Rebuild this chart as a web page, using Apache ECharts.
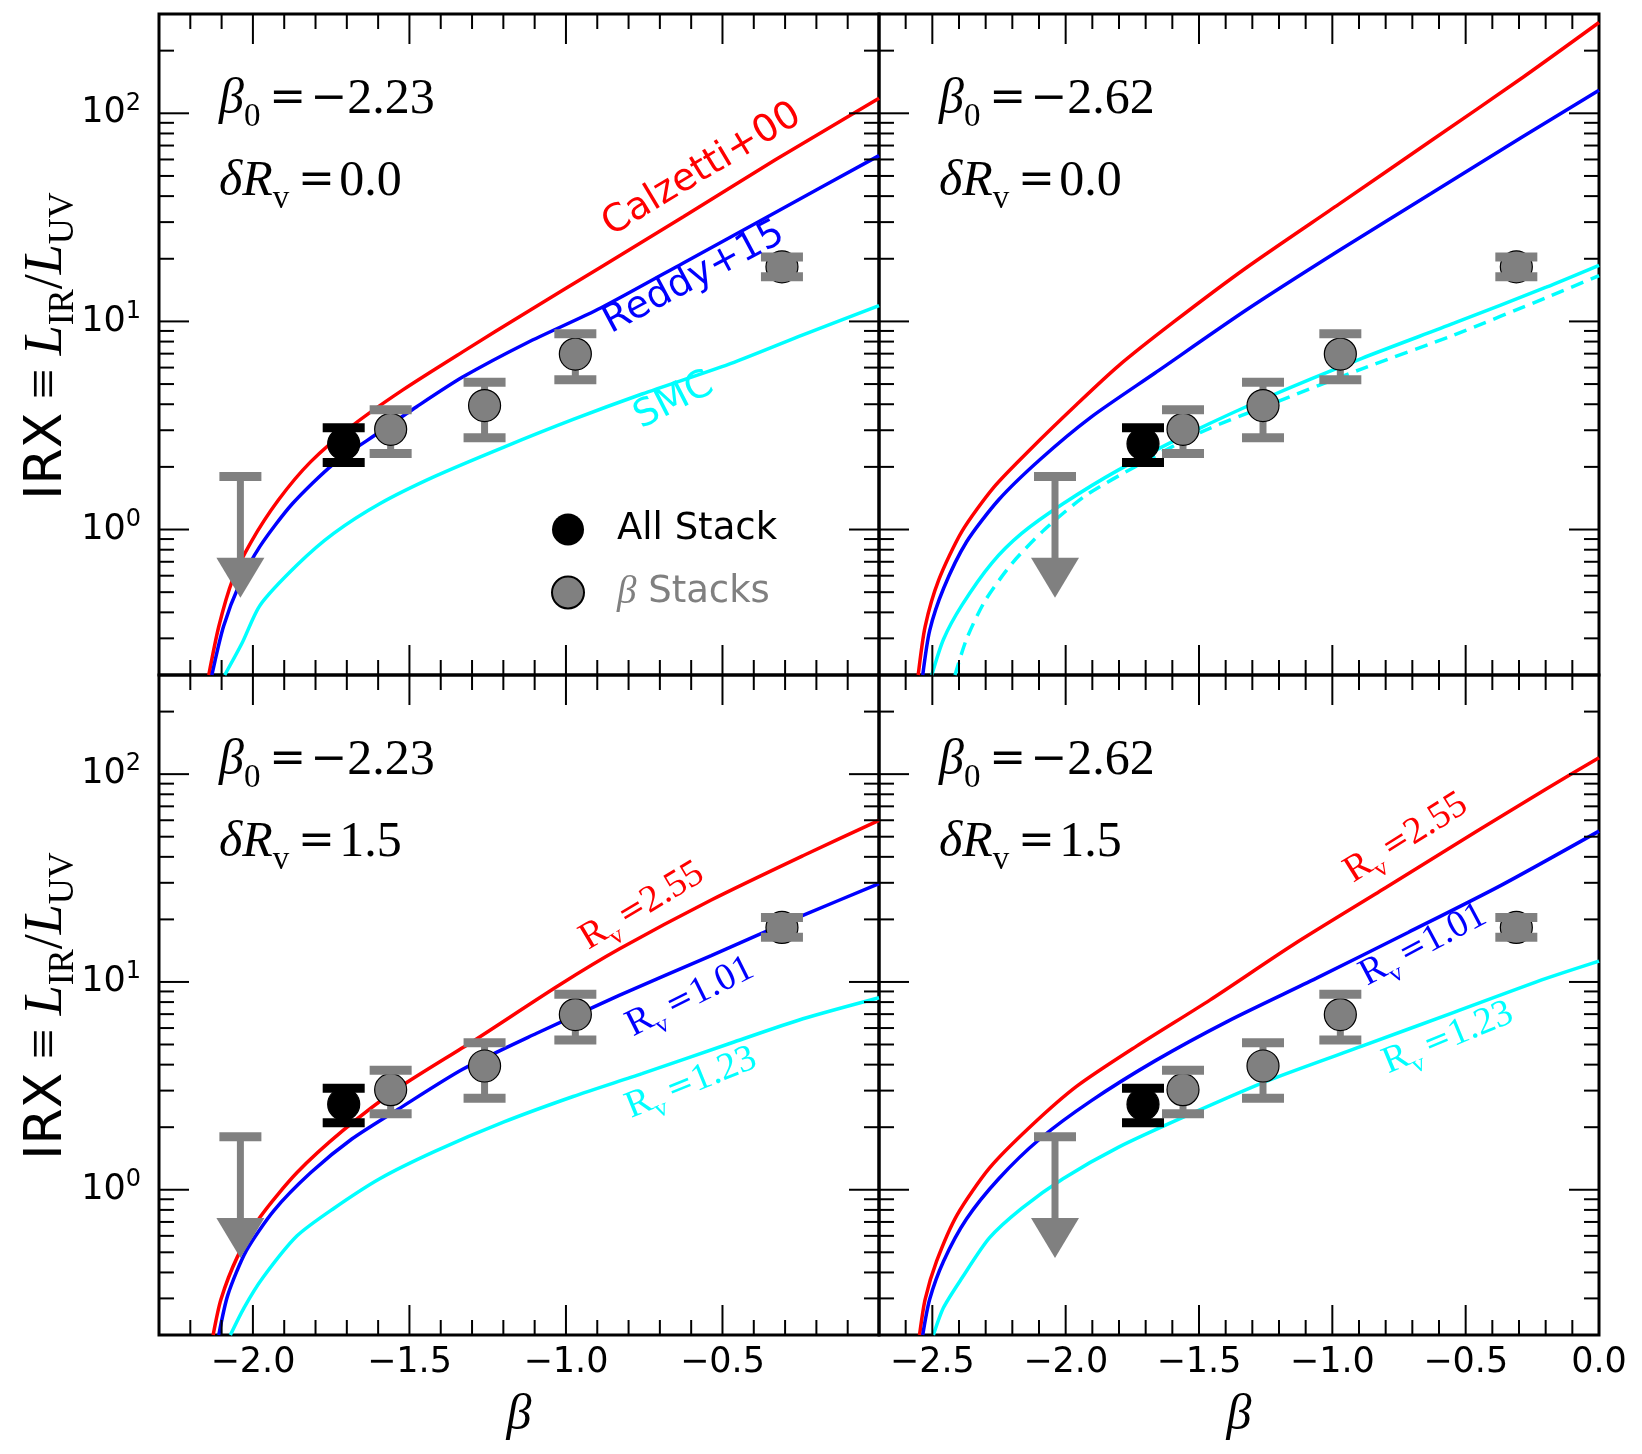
<!DOCTYPE html>
<html>
<head>
<meta charset="UTF-8">
<script src="https://cdn.jsdelivr.net/npm/echarts@6/dist/echarts.min.js"></script>
<style>
html, body { margin: 0; padding: 0; background: #fff; }
#chart { width: 1642px; height: 1454px; }
</style>
</head>
<body>
<div id="chart"></div>
<script type="text/javascript">
// axis ranges
var xRangeLeft = [-2.3, 0.0];
var xRangeRight = [-2.7, 0.0];
var yRange = [0.2, 300];

// stacked measurements (same in every panel)
var allStackBeta = [-1.71];
var allStackIrx = [2.58];
var allStackLo = [2.10];
var allStackHi = [3.08];

var betaStackBeta = [-1.56, -1.26, -0.97, -0.31];
var betaStackIrx = [3.03, 3.94, 6.97, 18.3];
var betaStackLo = [2.32, 2.76, 5.25, 16.4];
var betaStackHi = [3.76, 5.10, 8.73, 20.4];

// upper limit: cap value and arrow tip
var limitBeta = [-2.04];
var limitIrx = [1.80];
var limitTip = [0.47];

// curves, [beta, IRX]
// top left: beta0 = -2.23, dRv = 0.0
var tlCalzetti = [[-2.141,0.2],[-2.109,0.342],[-2.065,0.573],[-2.006,0.871],[-1.918,1.39],[-1.815,2.12],[-1.683,3.15],[-1.521,4.69],[-1.330,7.14],[-1.124,11.1],[-0.889,18.2],[-0.625,31.8],[-0.331,59.8],[0,118]];
var tlReddy = [[-2.131,0.2],[-2.094,0.342],[-2.043,0.546],[-1.977,0.832],[-1.874,1.33],[-1.742,2.07],[-1.595,2.94],[-1.477,3.89],[-1.330,5.40],[-1.124,7.9],[-0.889,11.6],[-0.625,19.1],[-0.331,33.4],[0,62.6]];
var tlSmc = [[-2.090,0.2],[-2.035,0.284],[-1.977,0.433],[-1.859,0.675],[-1.742,0.958],[-1.595,1.33],[-1.419,1.80],[-1.198,2.49],[-0.977,3.38],[-0.757,4.48],[-0.463,6.36],[-0.243,8.61],[0,11.9]];
// top right: beta0 = -2.62, dRv = 0.0
var trCalzetti = [[-2.553,0.2],[-2.527,0.342],[-2.476,0.573],[-2.389,0.98],[-2.269,1.60],[-2.131,2.44],[-1.958,4.0],[-1.803,6.1],[-1.596,9.91],[-1.320,18.2],[-0.975,36.6],[-0.630,73.8],[-0.285,149],[0,273]];
var trReddy = [[-2.536,0.2],[-2.510,0.327],[-2.458,0.521],[-2.372,0.871],[-2.251,1.39],[-2.096,2.17],[-1.906,3.46],[-1.665,5.65],[-1.320,11.4],[-0.975,21.9],[-0.630,41.2],[-0.285,77.4],[0,129]];
var trSmc = [[-2.502,0.2],[-2.458,0.297],[-2.389,0.433],[-2.277,0.69],[-2.165,0.958],[-2.010,1.33],[-1.803,1.93],[-1.527,2.94],[-1.234,4.37],[-0.889,6.65],[-0.544,9.8],[-0.198,14.6],[0,18.6]];
var trSmcDashed = [[-2.415,0.2],[-2.372,0.297],[-2.303,0.453],[-2.200,0.69],[-2.079,1.0],[-1.924,1.46],[-1.734,2.02],[-1.492,2.94],[-1.216,4.07],[-0.889,5.92],[-0.544,8.61],[-0.198,13.0],[0,16.6]];
// bottom left: beta0 = -2.23, dRv = 1.5
var blRv255 = [[-2.127,0.2],[-2.102,0.297],[-2.050,0.474],[-1.977,0.739],[-1.859,1.21],[-1.712,1.93],[-1.536,3.08],[-1.301,5.14],[-1.021,9.67],[-0.830,14.4],[-0.536,24.8],[-0.243,40.5],[0,59.9]];
var blRv101 = [[-2.109,0.2],[-2.080,0.312],[-2.021,0.509],[-1.933,0.794],[-1.815,1.21],[-1.683,1.76],[-1.536,2.44],[-1.330,3.80],[-1.095,5.65],[-0.830,8.61],[-0.536,13.4],[-0.243,20.9],[0,29.7]];
var blRv123 = [[-2.072,0.2],[-2.028,0.271],[-1.969,0.376],[-1.859,0.6],[-1.742,0.813],[-1.595,1.13],[-1.419,1.53],[-1.198,2.12],[-0.977,2.81],[-0.757,3.62],[-0.463,5.14],[-0.243,6.65],[0,8.4]];
// bottom right: beta0 = -2.62, dRv = 1.5
var brRv255 = [[-2.548,0.2],[-2.527,0.297],[-2.484,0.453],[-2.407,0.757],[-2.286,1.27],[-2.131,2.02],[-1.958,3.15],[-1.734,4.91],[-1.458,8.20],[-1.147,15.1],[-0.802,28.3],[-0.457,53.2],[-0.198,84.9],[0,120]];
var brRv101 = [[-2.536,0.2],[-2.510,0.297],[-2.458,0.453],[-2.372,0.723],[-2.251,1.13],[-2.096,1.76],[-1.906,2.67],[-1.665,4.17],[-1.389,6.50],[-1.061,10.4],[-0.716,17.3],[-0.371,29.0],[0,53.2]];
var brRv123 = [[-2.496,0.2],[-2.458,0.271],[-2.389,0.376],[-2.286,0.586],[-2.165,0.813],[-2.010,1.13],[-1.803,1.60],[-1.527,2.33],[-1.234,3.38],[-0.889,4.91],[-0.544,7.14],[-0.198,10.4],[0,12.6]];

var RED = '#ff0000', BLUE = '#0000ff', CYAN = '#00ffff', GRAY = '#808080';
var SERIF = '"Liberation Serif", "DejaVu Serif", serif';
var SANS = '"DejaVu Sans", sans-serif';
var OPS = '"DejaVu Serif", serif';

var grids = [
	{left: 159, top: 14, width: 720, height: 661, show: true, borderColor: '#000', borderWidth: 3},
	{left: 879, top: 14, width: 720, height: 661, show: true, borderColor: '#000', borderWidth: 3},
	{left: 159, top: 675, width: 720, height: 660, show: true, borderColor: '#000', borderWidth: 3},
	{left: 879, top: 675, width: 720, height: 660, show: true, borderColor: '#000', borderWidth: 3}
];

var panels = [
	{range: xRangeLeft, beta0: '2.23', dRv: '0.0', curves: [
		{data: tlCalzetti, color: RED}, {data: tlReddy, color: BLUE}, {data: tlSmc, color: CYAN}]},
	{range: xRangeRight, beta0: '2.62', dRv: '0.0', curves: [
		{data: trCalzetti, color: RED}, {data: trReddy, color: BLUE}, {data: trSmc, color: CYAN},
		{data: trSmcDashed, color: CYAN, dashed: true}]},
	{range: xRangeLeft, beta0: '2.23', dRv: '1.5', curves: [
		{data: blRv255, color: RED}, {data: blRv101, color: BLUE}, {data: blRv123, color: CYAN}]},
	{range: xRangeRight, beta0: '2.62', dRv: '1.5', curves: [
		{data: brRv255, color: RED}, {data: brRv101, color: BLUE}, {data: brRv123, color: CYAN}]}
];

function fmtBeta(v, hideZero) {
	var k = Math.round(v * 2);
	if (Math.abs(v * 2 - k) > 1e-6) return '';
	if (hideZero && Math.abs(v) < 1e-9) return '';
	return (v < -1e-9 ? '\u2212' : '') + Math.abs(v).toFixed(1);
}

function fmtPow(v) {
	var e = Math.log10(v), k = Math.round(e);
	if (Math.abs(e - k) > 1e-6) return '';
	return '{m|10}{e|' + k + '}';
}

// ticks on all four sides, pointing in
function tickData(r) {
	var out = [];
	var lo = Math.round(r[0] * 10), hi = Math.round(r[1] * 10);
	for (var k = lo + 1; k < hi; k++) {
		out.push([k / 10, 1, 0, k % 5 === 0 ? 30 : 15]);
	}
	for (var d = -1; d <= 2; d++) {
		for (var m = 1; m <= 9; m++) {
			var v = m * Math.pow(10, d);
			if (v <= yRange[0] * 1.0001 || v >= yRange[1] * 0.9999) continue;
			out.push([r[0], v, 1, m === 1 ? 30 : 15]);
		}
	}
	return out;
}

function renderTick(params, api) {
	var cs = params.coordSys;
	var p = api.coord([api.value(0), api.value(1)]);
	var len = api.value(3);
	var st = {stroke: '#000', lineWidth: 2};
	var a, b;
	if (api.value(2) === 0) {
		a = {x1: p[0], y1: cs.y + cs.height, x2: p[0], y2: cs.y + cs.height - len};
		b = {x1: p[0], y1: cs.y, x2: p[0], y2: cs.y + len};
	} else {
		a = {x1: cs.x, y1: p[1], x2: cs.x + len, y2: p[1]};
		b = {x1: cs.x + cs.width, y1: p[1], x2: cs.x + cs.width - len, y2: p[1]};
	}
	return {type: 'group', children: [
		{type: 'line', shape: a, style: st},
		{type: 'line', shape: b, style: st}
	]};
}

function errorRenderer(color) {
	return function(params, api) {
		var x = api.value(0);
		var c = api.coord([x, api.value(1)]);
		var lo = api.coord([x, api.value(2)]);
		var hi = api.coord([x, api.value(3)]);
		return {type: 'group', children: [
			{type: 'line', shape: {x1: c[0], y1: lo[1], x2: c[0], y2: hi[1]}, style: {stroke: color, lineWidth: 7}},
			{type: 'circle', shape: {cx: c[0], cy: c[1], r: 16}, style: {fill: color, stroke: '#000', lineWidth: 1.2}},
			{type: 'rect', shape: {x: c[0] - 21, y: lo[1] - 4.5, width: 42, height: 9}, style: {fill: color}},
			{type: 'rect', shape: {x: c[0] - 21, y: hi[1] - 4.5, width: 42, height: 9}, style: {fill: color}}
		]};
	};
}

function renderLimit(params, api) {
	var x = api.value(0);
	var cap = api.coord([x, api.value(1)]);
	var tip = api.coord([x, api.value(2)]);
	var headH = 40, headW = 24;
	return {type: 'group', children: [
		{type: 'line', shape: {x1: cap[0], y1: cap[1], x2: cap[0], y2: tip[1] - headH + 2}, style: {stroke: GRAY, lineWidth: 7}},
		{type: 'rect', shape: {x: cap[0] - 21, y: cap[1] - 4.5, width: 42, height: 9}, style: {fill: GRAY}},
		{type: 'polygon', shape: {points: [[cap[0] - headW, tip[1] - headH], [cap[0] + headW, tip[1] - headH], [cap[0], tip[1]]]}, style: {fill: GRAY}}
	]};
}

var allStackData = allStackBeta.map(function(b, k) { return [b, allStackIrx[k], allStackLo[k], allStackHi[k]]; });
var betaStackData = betaStackBeta.map(function(b, k) { return [b, betaStackIrx[k], betaStackLo[k], betaStackHi[k]]; });
var limitData = limitBeta.map(function(b, k) { return [b, limitIrx[k], limitTip[k]]; });

var xAxes = [], yAxes = [], series = [];
panels.forEach(function(p, i) {
	xAxes.push({
		type: 'value', gridIndex: i, min: p.range[0], max: p.range[1],
		axisLine: {show: false}, axisTick: {show: false}, splitLine: {show: false},
		axisLabel: {show: i >= 2, margin: 10, fontFamily: SANS, fontSize: 35, color: '#000',
			formatter: function(v) { return fmtBeta(v, i === 2); }},
		name: i >= 2 ? '\u03b2' : '', nameLocation: 'middle', nameGap: 56,
		nameTextStyle: {fontFamily: SERIF, fontStyle: 'italic', fontSize: 50, color: '#000'}
	});
	yAxes.push({
		type: 'log', logBase: 10, gridIndex: i, min: yRange[0], max: yRange[1],
		axisLine: {show: false}, axisTick: {show: false}, splitLine: {show: false},
		axisLabel: {show: i % 2 === 0, margin: 18, formatter: fmtPow, color: '#000',
			rich: {
				m: {fontFamily: SANS, fontSize: 35, lineHeight: 44, color: '#000'},
				e: {fontFamily: SANS, fontSize: 24, lineHeight: 24, verticalAlign: 'top', color: '#000'}
			}}
	});
	p.curves.forEach(function(c) {
		series.push({
			type: 'line', xAxisIndex: i, yAxisIndex: i, data: c.data, showSymbol: false, symbol: 'none',
			smooth: 0.25, z: 2, silent: true,
			lineStyle: {color: c.color, width: 3.5, type: c.dashed ? [13, 8] : 'solid'}
		});
	});
	series.push({
		type: 'custom', name: 'upper limit', xAxisIndex: i, yAxisIndex: i, z: 4, silent: true,
		renderItem: renderLimit, data: limitData
	});
	series.push({
		type: 'custom', name: '\u03b2 Stacks', xAxisIndex: i, yAxisIndex: i, z: 4, silent: true,
		itemStyle: {color: GRAY, borderColor: '#000', borderWidth: 1},
		renderItem: errorRenderer(GRAY), data: betaStackData
	});
	series.push({
		type: 'custom', name: 'All Stack', xAxisIndex: i, yAxisIndex: i, z: 4, silent: true,
		itemStyle: {color: '#000'},
		renderItem: errorRenderer('#000'), data: allStackData
	});
	series.push({
		type: 'custom', xAxisIndex: i, yAxisIndex: i, z: 10, silent: true,
		renderItem: renderTick, data: tickData(p.range)
	});
});

var mathRich = {
	i: {fontFamily: SERIF, fontStyle: 'italic', fontSize: 50, lineHeight: 68},
	n: {fontFamily: SERIF, fontSize: 50, lineHeight: 68},
	o: {fontFamily: OPS, fontSize: 44, lineHeight: 68},
	s: {fontFamily: SERIF, fontSize: 33, lineHeight: 33, verticalAlign: 'bottom'}
};
var rvRich = {
	n: {fontFamily: SERIF, fontSize: 38, lineHeight: 52},
	o: {fontFamily: OPS, fontSize: 32, lineHeight: 52},
	s: {fontFamily: SERIF, fontSize: 25, lineHeight: 25, verticalAlign: 'bottom'}
};

var graphics = [];
panels.forEach(function(p, i) {
	var g = grids[i];
	graphics.push({type: 'text', x: g.left + 60, y: g.top + 86, z: 20,
		style: {text: '{i|\u03b2}{s|0}{o|\u2009=\u200a\u2212}{n|' + p.beta0 + '}', fill: '#000', verticalAlign: 'middle', rich: mathRich}});
	graphics.push({type: 'text', x: g.left + 60, y: g.top + 168, z: 20,
		style: {text: '{i|\u03b4R}{s|v}{o|\u2009=\u200a}{n|' + p.dRv + '}', fill: '#000', verticalAlign: 'middle', rich: mathRich}});
});

function curveLabel(x, y, deg, text, color, rich) {
	var st = {text: text, fill: color, align: 'center', verticalAlign: 'middle'};
	if (rich) {
		st.rich = rich;
	} else {
		st.fontFamily = SANS;
		st.fontSize = 38;
	}
	return {type: 'text', x: x, y: y, rotation: deg * Math.PI / 180, z: 20, style: st};
}
function rvText(v) {
	return '{n|R}{s|v}{o|\u2009=}{n|' + v + '}';
}
graphics.push(curveLabel(702, 170, 31, 'Calzetti+00', RED));
graphics.push(curveLabel(694, 278, 28, 'Reddy+15', BLUE));
graphics.push(curveLabel(674, 401, 27, 'SMC', CYAN));
graphics.push(curveLabel(642, 906, 31, rvText('2.55'), RED, rvRich));
graphics.push(curveLabel(690, 997, 26.5, rvText('1.01'), BLUE, rvRich));
graphics.push(curveLabel(691, 1083, 22, rvText('1.23'), CYAN, rvRich));
graphics.push(curveLabel(1406, 838, 32, rvText('2.55'), RED, rvRich));
graphics.push(curveLabel(1423, 945, 28, rvText('1.01'), BLUE, rvRich));
graphics.push(curveLabel(1448, 1038, 22.5, rvText('1.23'), CYAN, rvRich));

// y axis titles
[346, 1006].forEach(function(cy) {
	graphics.push({type: 'text', x: 47, y: cy, rotation: Math.PI / 2, z: 20,
		style: {text: '{a|IRX}{n| \u2261 }{i|L}{s|IR}{n|/}{i|L}{s|UV}', fill: '#000', align: 'center', verticalAlign: 'middle',
			rich: {
				a: {fontFamily: SANS, fontSize: 52, lineHeight: 70},
				n: {fontFamily: SERIF, fontSize: 54, lineHeight: 70},
				i: {fontFamily: SERIF, fontStyle: 'italic', fontSize: 54, lineHeight: 70},
				s: {fontFamily: SERIF, fontSize: 36, lineHeight: 36, verticalAlign: 'bottom'}
			}}});
});

var chart = echarts.init(document.getElementById('chart'));
var option = {
	animation: false,
	backgroundColor: '#fff',
	grid: grids,
	xAxis: xAxes,
	yAxis: yAxes,
	legend: {
		left: 551, top: 511, padding: 0, orient: 'vertical', icon: 'circle',
		itemWidth: 32, itemHeight: 32, itemGap: 25, selectedMode: false,
		data: [{name: 'All Stack'}, {name: '\u03b2 Stacks'}],
		formatter: function(name) {
			return name === 'All Stack' ? '{a|All Stack}' : '{b|\u03b2}{g| Stacks}';
		},
		textStyle: {padding: [0, 0, 0, 28], rich: {
			a: {fontFamily: SANS, fontSize: 37, lineHeight: 32, color: '#000'},
			b: {fontFamily: SERIF, fontStyle: 'italic', fontSize: 39, lineHeight: 32, color: GRAY},
			g: {fontFamily: SANS, fontSize: 37, lineHeight: 32, color: GRAY}
		}}
	},
	series: series,
	graphic: graphics
};
chart.setOption(option);
</script>
</body>
</html>
